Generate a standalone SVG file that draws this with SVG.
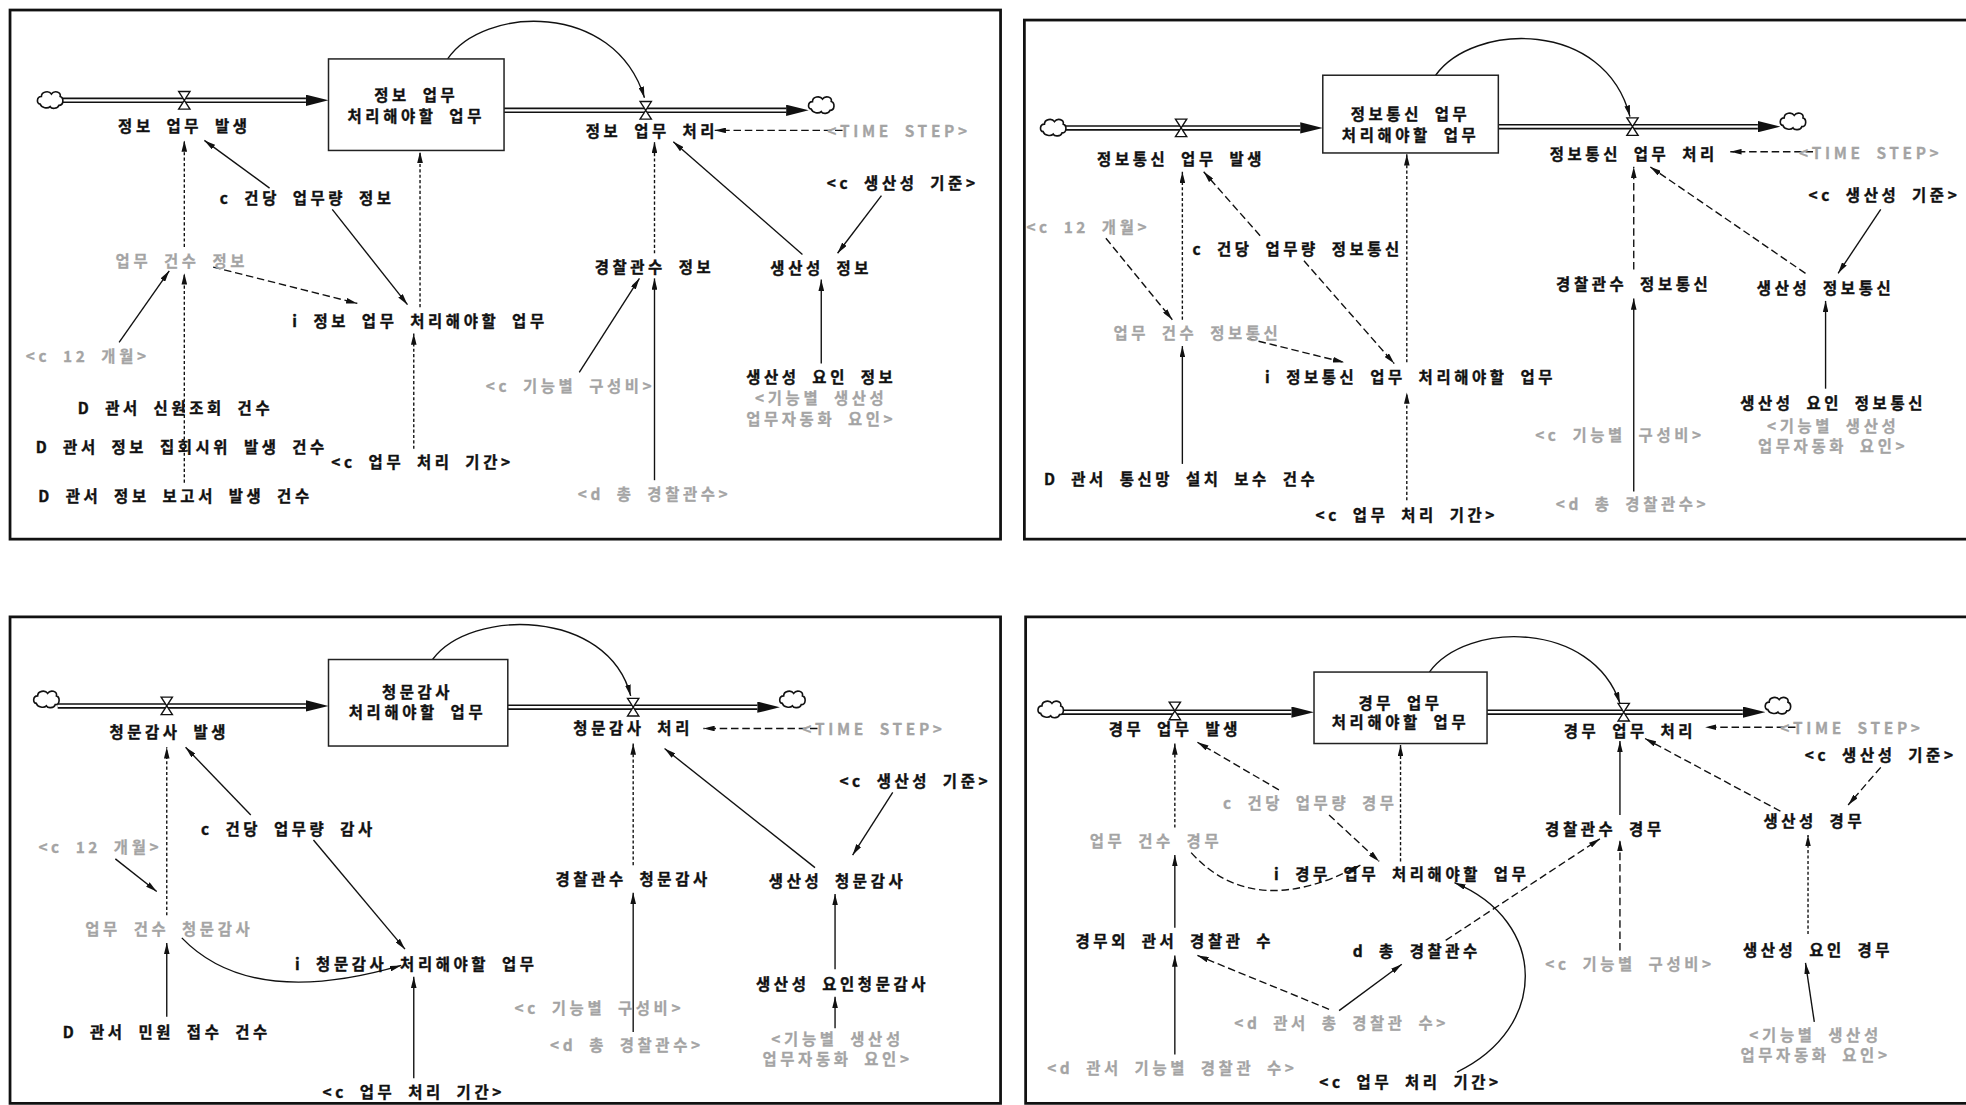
<svg xmlns="http://www.w3.org/2000/svg" width="1966" height="1105" viewBox="0 0 1966 1105">
<style>
text{font-family:"Noto Sans CJK KR","Noto Sans",sans-serif;font-weight:bold;font-size:12.3px;letter-spacing:2.9px;word-spacing:4.5px;text-anchor:middle;dominant-baseline:central;fill:#111;stroke:#111;stroke-width:0.3}
text.g{fill:#a4a4a4;stroke:#a4a4a4;stroke-width:0.2}
.frame{fill:none;stroke:#111;stroke-width:2.2}
.stock{fill:#fff;stroke:#222;stroke-width:1.2}
.lk{fill:none;stroke:#111;stroke-width:1.1;marker-end:url(#ah)}
.dt{stroke-dasharray:2.5 1.8}
.ds{stroke-dasharray:6 3}
.pipe{fill:none;stroke:#111;stroke-width:4.4;marker-end:url(#fh)}
.pipei{fill:none;stroke:#fff;stroke-width:1.8}
.valve{fill:#fff;stroke:#111;stroke-width:1.1}
</style>
<defs>
<marker id="ah" viewBox="0 0 10 5" refX="10" refY="2.5" markerWidth="9" markerHeight="4.5" markerUnits="userSpaceOnUse" orient="auto"><path d="M0,0 L10,2.5 L0,5 z" fill="#111"/></marker>
<marker id="fh" viewBox="0 0 18 9" refX="0" refY="4.5" markerWidth="18" markerHeight="9" markerUnits="userSpaceOnUse" orient="auto"><path d="M0,0 L18,4.5 L0,9 z" fill="#111"/></marker>
<path id="cloud" d="M-8,3 C-11,3 -11,-3 -7,-3 C-7,-7 -1,-8 1,-5 C3,-8 9,-7 8,-3 C11,-2 11,4 7,4 C6,7 1,7 0,5 C-2,7 -7,6 -8,3 Z" fill="#fff" stroke="#111" stroke-width="1.3"/>
<path id="valve" d="M-4.5,-7 L4.5,-7 L-4.5,7 L4.5,7 Z" class="valve"/>
</defs>
<rect width="1966" height="1105" fill="#fff"/>
<g transform="scale(1.25383)">

<!-- ================= PANEL 1 ================= -->
<g id="panel1">
<rect class="frame" x="8" y="8" width="790" height="422"/>
<g id="p1-connectors">
<path class="pipe" d="M49,80 H244"/><path class="pipei" d="M49,80 H244"/>
<path class="pipe" d="M402,88 H627"/><path class="pipei" d="M402,88 H627"/>
<path class="lk" d="M357,47 C385,5 490,0 514,78"/>
<path class="lk ds" d="M672,104 H570"/>
<path class="lk" d="M703,156 L668,202"/>
<path class="lk" d="M640,203 L537,113"/>
<path class="lk" d="M655,290 V223"/>
<path class="lk dt" d="M522,202 V113"/>
<path class="lk" d="M462,297 L510,222"/>
<path class="lk" d="M522,383 V222"/>
<path class="lk dt" d="M335,245 V121"/>
<path class="lk dt" d="M330,358 V266"/>
<path class="lk" d="M215,150 L163,112"/>
<path class="lk" d="M265,167 L325,243"/>
<path class="lk dt" d="M147,197 V112"/>
<path class="lk ds" d="M170,213 L285,242"/>
<path class="lk" d="M95,273 L135,216"/>
<path class="lk dt" d="M147,385 V218"/>
</g>
<g id="p1-source"><use href="#cloud" x="40" y="80"/></g>
<g id="p1-sink"><use href="#cloud" x="655" y="84"/></g>
<g id="p1-inflow"><use href="#valve" x="147" y="80"/><text x="147" y="100">정보 업무 발생</text></g>
<g id="p1-stock"><rect class="stock" x="262" y="47" width="140" height="73"/><text x="332" y="75">정보 업무</text><text x="332" y="92">처리해야할 업무</text></g>
<g id="p1-outflow"><use href="#valve" x="515" y="88"/><text x="520" y="104">정보 업무 처리</text></g>
<g id="p1-timestep"><text class="g" x="717" y="104">&lt;TIME STEP&gt;</text></g>
<g id="p1-cstd"><text x="720" y="145">&lt;c 생산성 기준&gt;</text></g>
<g id="p1-prod"><text x="655" y="213">생산성 정보</text></g>
<g id="p1-prodfac"><text x="655" y="300">생산성 요인 정보</text><text class="g" x="655" y="317">&lt;기능별 생산성</text><text class="g" x="655" y="333">업무자동화 요인&gt;</text></g>
<g id="p1-police"><text x="522" y="212">경찰관수 정보</text></g>
<g id="p1-ratio"><text class="g" x="455" y="307">&lt;c 기능별 구성비&gt;</text></g>
<g id="p1-total"><text class="g" x="522" y="393">&lt;d 총 경찰관수&gt;</text></g>
<g id="p1-init"><text x="335" y="255">i 정보 업무 처리해야할 업무</text></g>
<g id="p1-period"><text x="337" y="368">&lt;c 업무 처리 기간&gt;</text></g>
<g id="p1-load"><text x="245" y="157">c 건당 업무량 정보</text></g>
<g id="p1-count"><text class="g" x="145" y="207">업무 건수 정보</text></g>
<g id="p1-month"><text class="g" x="70" y="283">&lt;c 12 개월&gt;</text></g>
<g id="p1-d1"><text x="140" y="325">D 관서 신원조회 건수</text></g>
<g id="p1-d2"><text x="145" y="356">D 관서 정보 집회시위 발생 건수</text></g>
<g id="p1-d3"><text x="140" y="395">D 관서 정보 보고서 발생 건수</text></g>
</g>

<!-- ================= PANEL 2 ================= -->
<g id="panel2">
<rect class="frame" x="817" y="16" width="780" height="414"/>
<g id="p2-connectors">
<path class="pipe" d="M849,102 H1037"/><path class="pipei" d="M849,102 H1037"/>
<path class="pipe" d="M1195,101 H1402"/><path class="pipei" d="M1195,101 H1402"/>
<path class="lk" d="M1145,60 C1175,18 1280,15 1300,93"/>
<path class="lk ds" d="M1446,121 H1380"/>
<path class="lk" d="M1500,167 L1466,218"/>
<path class="lk ds" d="M1440,218 L1316,133"/>
<path class="lk" d="M1456,310 V240"/>
<path class="lk ds" d="M1303,215 V133"/>
<path class="lk" d="M1303,392 V238"/>
<path class="lk dt" d="M1122,399 V313"/>
<path class="lk dt" d="M1122,289 V123"/>
<path class="lk ds" d="M1005,188 L960,137"/>
<path class="lk ds" d="M1040,208 L1112,290"/>
<path class="lk ds" d="M882,190 L935,255"/>
<path class="lk dt" d="M943,255 V137"/>
<path class="lk ds" d="M995,270 L1072,289"/>
<path class="lk" d="M943,370 V276"/>
</g>
<g id="p2-source"><use href="#cloud" x="840" y="102"/></g>
<g id="p2-sink"><use href="#cloud" x="1430" y="97"/></g>
<g id="p2-inflow"><use href="#valve" x="942" y="102"/><text x="942" y="126">정보통신 업무 발생</text></g>
<g id="p2-stock"><rect class="stock" x="1055" y="60" width="140" height="62"/><text x="1125" y="90">정보통신 업무</text><text x="1125" y="107">처리해야할 업무</text></g>
<g id="p2-outflow"><use href="#valve" x="1302" y="101"/><text x="1303" y="122">정보통신 업무 처리</text></g>
<g id="p2-timestep"><text class="g" x="1492" y="121">&lt;TIME STEP&gt;</text></g>
<g id="p2-cstd"><text x="1503" y="155">&lt;c 생산성 기준&gt;</text></g>
<g id="p2-prod"><text x="1456" y="229">생산성 정보통신</text></g>
<g id="p2-prodfac"><text x="1462" y="321">생산성 요인 정보통신</text><text class="g" x="1462" y="339">&lt;기능별 생산성</text><text class="g" x="1462" y="355">업무자동화 요인&gt;</text></g>
<g id="p2-police"><text x="1303" y="226">경찰관수 정보통신</text></g>
<g id="p2-ratio"><text class="g" x="1292" y="346">&lt;c 기능별 구성비&gt;</text></g>
<g id="p2-total"><text class="g" x="1302" y="401">&lt;d 총 경찰관수&gt;</text></g>
<g id="p2-init"><text x="1125" y="300">i 정보통신 업무 처리해야할 업무</text></g>
<g id="p2-period"><text x="1122" y="410">&lt;c 업무 처리 기간&gt;</text></g>
<g id="p2-load"><text x="1035" y="198">c 건당 업무량 정보통신</text></g>
<g id="p2-month"><text class="g" x="868" y="180">&lt;c 12 개월&gt;</text></g>
<g id="p2-count"><text class="g" x="955" y="265">업무 건수 정보통신</text></g>
<g id="p2-d1"><text x="942" y="381">D 관서 통신망 설치 보수 건수</text></g>
</g>

<!-- ================= PANEL 3 ================= -->
<g id="panel3">
<rect class="frame" x="8" y="492" width="790" height="388"/>
<g id="p3-connectors">
<path class="pipe" d="M46,563 H244"/><path class="pipei" d="M46,563 H244"/>
<path class="pipe" d="M405,564 H604"/><path class="pipei" d="M405,564 H604"/>
<path class="lk" d="M345,526 C375,485 485,485 503,555"/>
<path class="lk ds" d="M652,581 H561"/>
<path class="lk" d="M712,632 L680,682"/>
<path class="lk" d="M650,692 L530,597"/>
<path class="lk" d="M666,773 V713"/>
<path class="lk" d="M666,820 V795"/>
<path class="lk dt" d="M505,690 V593"/>
<path class="lk" d="M505,823 V712"/>
<path class="lk" d="M330,860 V779"/>
<path class="lk" d="M200,650 L148,596"/>
<path class="lk" d="M250,670 L323,757"/>
<path class="lk" d="M92,685 L125,711"/>
<path class="lk dt" d="M133,730 V596"/>
<path class="lk" d="M145,748 Q200,805 320,770"/>
<path class="lk" d="M133,811 V752"/>
</g>
<g id="p3-source"><use href="#cloud" x="37" y="558"/></g>
<g id="p3-sink"><use href="#cloud" x="632" y="558"/></g>
<g id="p3-inflow"><use href="#valve" x="133" y="563"/><text x="135" y="583">청문감사 발생</text></g>
<g id="p3-stock"><rect class="stock" x="262" y="526" width="143" height="69"/><text x="333" y="551">청문감사</text><text x="333" y="567">처리해야할 업무</text></g>
<g id="p3-outflow"><use href="#valve" x="505" y="564"/><text x="505" y="580">청문감사 처리</text></g>
<g id="p3-timestep"><text class="g" x="697" y="581">&lt;TIME STEP&gt;</text></g>
<g id="p3-cstd"><text x="730" y="622">&lt;c 생산성 기준&gt;</text></g>
<g id="p3-prod"><text x="668" y="702">생산성 청문감사</text></g>
<g id="p3-prodfac"><text x="672" y="784">생산성 요인청문감사</text></g>
<g id="p3-prodsrc"><text class="g" x="668" y="828">&lt;기능별 생산성</text><text class="g" x="668" y="844">업무자동화 요인&gt;</text></g>
<g id="p3-police"><text x="505" y="700">경찰관수 청문감사</text></g>
<g id="p3-ratio"><text class="g" x="478" y="803">&lt;c 기능별 구성비&gt;</text></g>
<g id="p3-total"><text class="g" x="500" y="833">&lt;d 총 경찰관수&gt;</text></g>
<g id="p3-init"><text x="332" y="768">i 청문감사 처리해야할 업무</text></g>
<g id="p3-period"><text x="330" y="870">&lt;c 업무 처리 기간&gt;</text></g>
<g id="p3-load"><text x="230" y="660">c 건당 업무량 감사</text></g>
<g id="p3-month"><text class="g" x="80" y="675">&lt;c 12 개월&gt;</text></g>
<g id="p3-count"><text class="g" x="135" y="740">업무 건수 청문감사</text></g>
<g id="p3-d1"><text x="133" y="822">D 관서 민원 접수 건수</text></g>
</g>

<!-- ================= PANEL 4 ================= -->
<g id="panel4">
<rect class="frame" x="818" y="492" width="780" height="388"/>
<g id="p4-connectors">
<path class="pipe" d="M847,568 H1030"/><path class="pipei" d="M847,568 H1030"/>
<path class="pipe" d="M1186,568 H1390"/><path class="pipei" d="M1186,568 H1390"/>
<path class="lk" d="M1140,536 C1170,495 1270,495 1292,561"/>
<path class="lk ds" d="M1432,580 H1360"/>
<path class="lk ds" d="M1500,612 L1474,642"/>
<path class="lk ds" d="M1420,647 L1312,589"/>
<path class="lk dt" d="M1442,745 V666"/>
<path class="lk" d="M1447,815 L1440,768"/>
<path class="lk" d="M1292,650 V591"/>
<path class="lk ds" d="M1292,758 V670"/>
<path class="lk ds" d="M1153,750 L1276,669"/>
<path class="lk ds" d="M1060,805 L955,762"/>
<path class="lk" d="M1068,806 L1118,769"/>
<path class="lk" d="M937,740 V682"/>
<path class="lk" d="M937,841 V762"/>
<path class="lk dt" d="M937,660 V593"/>
<path class="lk ds" d="M950,680 Q1000,735 1085,690"/>
<path class="lk ds" d="M1020,630 L955,592"/>
<path class="lk ds" d="M1060,650 L1100,687"/>
<path class="lk" d="M1162,855 C1235,820 1235,735 1160,704"/>
<path class="lk dt" d="M1117,687 V594"/>
</g>
<g id="p4-source"><use href="#cloud" x="838" y="566"/></g>
<g id="p4-sink"><use href="#cloud" x="1418" y="563"/></g>
<g id="p4-inflow"><use href="#valve" x="937" y="567"/><text x="937" y="581">경무 업무 발생</text></g>
<g id="p4-stock"><rect class="stock" x="1048" y="536" width="138" height="57"/><text x="1117" y="560">경무 업무</text><text x="1117" y="575">처리해야할 업무</text></g>
<g id="p4-outflow"><use href="#valve" x="1295" y="568"/><text x="1300" y="582">경무 업무 처리</text></g>
<g id="p4-timestep"><text class="g" x="1477" y="580">&lt;TIME STEP&gt;</text></g>
<g id="p4-cstd"><text x="1500" y="601">&lt;c 생산성 기준&gt;</text></g>
<g id="p4-prod"><text x="1447" y="654">생산성 경무</text></g>
<g id="p4-prodfac"><text x="1450" y="757">생산성 요인 경무</text></g>
<g id="p4-prodsrc"><text class="g" x="1448" y="825">&lt;기능별 생산성</text><text class="g" x="1448" y="841">업무자동화 요인&gt;</text></g>
<g id="p4-police"><text x="1280" y="660">경찰관수 경무</text></g>
<g id="p4-ratio"><text class="g" x="1300" y="768">&lt;c 기능별 구성비&gt;</text></g>
<g id="p4-init"><text x="1118" y="696">i 경무 업무 처리해야할 업무</text></g>
<g id="p4-dtotal"><text x="1130" y="758">d 총 경찰관수</text></g>
<g id="p4-stationtotal"><text class="g" x="1070" y="815">&lt;d 관서 총 경찰관 수&gt;</text></g>
<g id="p4-other"><text x="937" y="750">경무외 관서 경찰관 수</text></g>
<g id="p4-bydiv"><text class="g" x="935" y="851">&lt;d 관서 기능별 경찰관 수&gt;</text></g>
<g id="p4-count"><text class="g" x="922" y="670">업무 건수 경무</text></g>
<g id="p4-load"><text class="g" x="1045" y="640">c 건당 업무량 경무</text></g>
<g id="p4-period"><text x="1125" y="862">&lt;c 업무 처리 기간&gt;</text></g>
</g>

</g>
</svg>
